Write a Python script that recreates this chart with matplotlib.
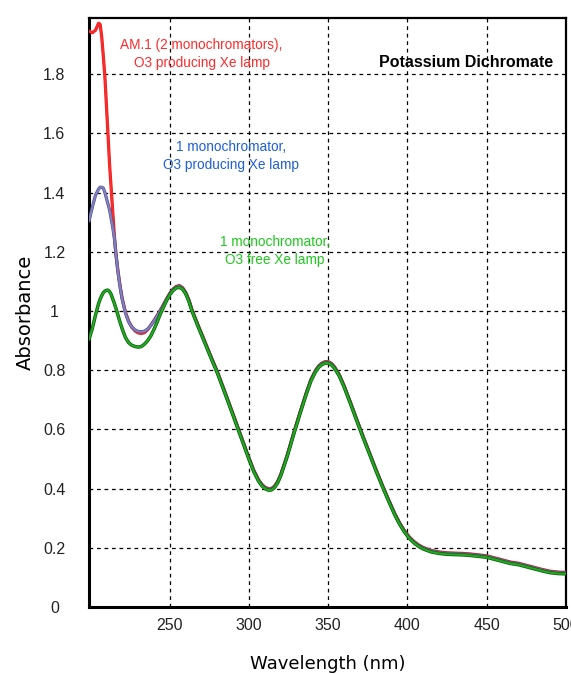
import numpy as np
import matplotlib
matplotlib.use('Agg')
import matplotlib.pyplot as plt
import matplotlib.patheffects as pe
from matplotlib import font_manager

# wavelength grid (nm)
wavelength = [199, 201, 203, 205, 206, 207, 208, 209, 210, 211,
              212, 213, 214, 215, 216, 217, 218, 219, 220,
              222, 224, 226, 228, 230, 232, 234, 236, 238, 240,
              242, 244, 246, 248, 250, 252, 254, 256, 258, 260, 262,
              264, 268, 272, 276, 280, 284, 288, 292, 296, 300,
              303, 306, 308, 310, 312, 314, 316, 318, 320,
              324, 328, 332, 336,
              339, 342, 344, 346, 348, 350, 352, 354, 357, 360,
              364, 368, 372, 376, 380, 384, 388, 392,
              395, 398, 401, 404, 407, 410,
              415, 420, 425, 430, 435, 440, 445, 450, 455, 460,
              465, 470, 475, 480, 485, 490, 495, 500]

# AM.1, 2 monochromators, O3 producing Xe lamp
abs_am1 = [1.945, 1.940, 1.948, 1.972, 1.968, 1.925, 1.860, 1.790, 1.690, 1.590,
           1.490, 1.410, 1.330, 1.250, 1.190, 1.145, 1.105, 1.070, 1.040,
           0.995, 0.965, 0.945, 0.933, 0.926, 0.924, 0.927, 0.937, 0.952, 0.968,
           0.985, 1.003, 1.022, 1.042, 1.060, 1.074, 1.083, 1.086, 1.079, 1.063, 1.038,
           1.004, 0.950, 0.898, 0.846, 0.795, 0.738, 0.680, 0.621, 0.562, 0.503,
           0.462, 0.430, 0.415, 0.405, 0.400, 0.400, 0.408, 0.424, 0.448,
           0.512, 0.585, 0.655, 0.722,
           0.768, 0.800, 0.815, 0.824, 0.829, 0.829, 0.823, 0.811, 0.785, 0.748,
           0.692, 0.634, 0.577, 0.522, 0.467, 0.414, 0.364, 0.316,
           0.285, 0.259, 0.238, 0.222, 0.210, 0.201,
           0.191, 0.186, 0.183, 0.182, 0.181, 0.179, 0.176, 0.173, 0.166, 0.159,
           0.152, 0.148, 0.141, 0.134, 0.127, 0.121, 0.118, 0.117]

# 1 monochromator, O3 producing Xe lamp
abs_mono_o3 = [1.305, 1.350, 1.390, 1.412, 1.418, 1.418, 1.415, 1.400, 1.380, 1.360,
               1.340, 1.310, 1.280, 1.245, 1.190, 1.142, 1.102, 1.067, 1.037,
               0.992, 0.963, 0.946, 0.936, 0.931, 0.930, 0.932, 0.939, 0.951, 0.966,
               0.983, 1.001, 1.020, 1.040, 1.058, 1.072, 1.081, 1.084, 1.077, 1.061, 1.036,
               1.002, 0.948, 0.896, 0.844, 0.793, 0.736, 0.678, 0.619, 0.560, 0.501,
               0.460, 0.428, 0.413, 0.403, 0.398, 0.398, 0.406, 0.422, 0.446,
               0.510, 0.583, 0.653, 0.720,
               0.766, 0.798, 0.813, 0.822, 0.827, 0.827, 0.821, 0.809, 0.783, 0.746,
               0.690, 0.632, 0.575, 0.520, 0.465, 0.412, 0.362, 0.314,
               0.283, 0.257, 0.236, 0.220, 0.208, 0.199,
               0.189, 0.184, 0.181, 0.180, 0.179, 0.177, 0.174, 0.171, 0.164, 0.157,
               0.150, 0.146, 0.139, 0.132, 0.125, 0.119, 0.116, 0.115]

# 1 monochromator, O3 free Xe lamp
abs_mono_free = [0.905, 0.940, 0.985, 1.025, 1.040, 1.052, 1.062, 1.067, 1.070, 1.070,
                 1.065, 1.055, 1.040, 1.025, 1.008, 0.990, 0.972, 0.955, 0.938,
                 0.910, 0.893, 0.884, 0.880, 0.878, 0.880, 0.888, 0.900, 0.916, 0.938,
                 0.963, 0.990, 1.013, 1.036, 1.055, 1.069, 1.078, 1.080, 1.074, 1.058, 1.033,
                 0.999, 0.945, 0.893, 0.841, 0.790, 0.733, 0.675, 0.616, 0.557, 0.498,
                 0.457, 0.425, 0.410, 0.400, 0.395, 0.395, 0.403, 0.419, 0.443,
                 0.507, 0.580, 0.650, 0.717,
                 0.763, 0.795, 0.810, 0.819, 0.824, 0.824, 0.818, 0.806, 0.780, 0.743,
                 0.687, 0.629, 0.572, 0.517, 0.462, 0.409, 0.359, 0.311,
                 0.280, 0.254, 0.233, 0.217, 0.205, 0.196,
                 0.186, 0.181, 0.178, 0.177, 0.176, 0.174, 0.171, 0.168, 0.161, 0.154,
                 0.147, 0.143, 0.136, 0.129, 0.122, 0.116, 0.113, 0.112]

xticks = [250, 300, 350, 400, 450, 500]
yticks = [0, 0.2, 0.4, 0.6, 0.8, 1.0, 1.2, 1.4, 1.6, 1.8]
ytick_labels = ['0', '0.2', '0.4', '0.6', '0.8', '1', '1.2', '1.4', '1.6', '1.8']


def pick_font(names):
    # first family that is really installed
    for name in names:
        try:
            font_manager.findfont(font_manager.FontProperties(family=name),
                                  fallback_to_default=False)
            return name
        except ValueError:
            continue
    return 'DejaVu Sans'


tick_font = pick_font(['Liberation Sans Narrow', 'Arial Narrow', 'Liberation Sans'])
tick_size = 13 if 'Narrow' in tick_font else 11.5

fig = plt.figure(figsize=(5.71, 6.74), dpi=100)
ax = fig.add_axes([0.156, 0.0994, 0.835, 0.874])

ax.plot(wavelength, abs_am1, color='#ff2b2b', lw=1.5, zorder=3,
        path_effects=[pe.Stroke(linewidth=2.3, foreground='#e02020'), pe.Normal()])
ax.plot(wavelength, abs_mono_o3, color='#8080c0', lw=1.5, zorder=4,
        path_effects=[pe.Stroke(linewidth=2.3, foreground='#50508f'), pe.Normal()])
ax.plot(wavelength, abs_mono_free, color='#22aa22', lw=1.4, zorder=5,
        path_effects=[pe.Stroke(linewidth=2.5, foreground='#0d600d'), pe.Normal()])

ax.set_xlim(199, 500)
ax.set_ylim(0, 1.99)
ax.set_xticks(xticks)
ax.set_yticks(yticks)
ax.set_yticklabels(ytick_labels)
ax.tick_params(length=0)
ax.tick_params(axis='x', pad=8)
ax.tick_params(axis='y', pad=25)
for tl in ax.get_xticklabels() + ax.get_yticklabels():
    tl.set_family(tick_font)
    tl.set_fontsize(tick_size)
    tl.set_color('#222222')
for tl in ax.get_yticklabels():
    tl.set_horizontalalignment('center')

ax.grid(True, color='black', linestyle=(0, (3, 3)), linewidth=0.9)
ax.set_axisbelow(True)

for side in ['left', 'bottom']:
    ax.spines[side].set_linewidth(2.2)
for side in ['top', 'right']:
    ax.spines[side].set_linewidth(1.6)

ax.set_xlabel('Wavelength (nm)', family='DejaVu Sans', fontsize=13, labelpad=16)
ax.set_ylabel('Absorbance', family='DejaVu Sans', fontsize=14, labelpad=6)

ax.text(0.973, 0.925, 'Potassium Dichromate', transform=ax.transAxes,
        ha='right', va='center', fontsize=11.5, fontweight='bold',
        family='Liberation Sans')
ax.text(0.236, 0.939, 'AM.1 (2 monochromators),\nO3 producing Xe lamp',
        transform=ax.transAxes, ha='center', va='center', fontsize=9.8,
        family='Liberation Sans', color='#ff2b2b', linespacing=1.4)
ax.text(0.298, 0.766, '1 monochromator,\nO3 producing Xe lamp',
        transform=ax.transAxes, ha='center', va='center', fontsize=9.8,
        family='Liberation Sans', color='#1f5fd8', linespacing=1.4)
ax.text(0.390, 0.604, '1 monochromator,\nO3 free Xe lamp',
        transform=ax.transAxes, ha='center', va='center', fontsize=9.8,
        family='Liberation Sans', color='#1ec81e', linespacing=1.4)

fig.savefig('out.png', dpi=100)
